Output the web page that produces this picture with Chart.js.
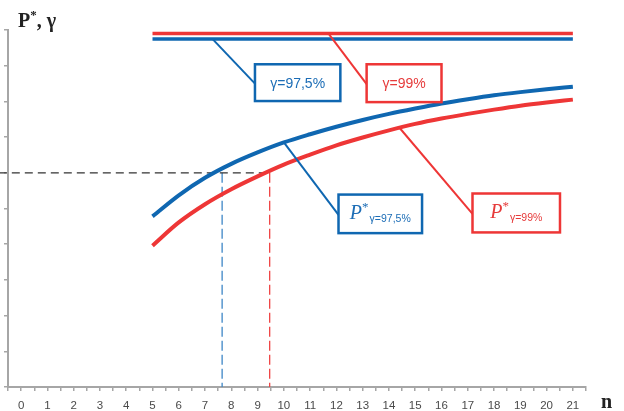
<!DOCTYPE html>
<html>
<head>
<meta charset="utf-8">
<script src="https://cdn.jsdelivr.net/npm/chart.js@4.4.1/dist/chart.umd.min.js"></script>
<style>
  html, body { margin: 0; padding: 0; background: #fff; overflow: hidden; }
  #wrap { position: relative; width: 624px; height: 411px; }
</style>
</head>
<body>
<div id="wrap"><canvas id="chart"></canvas></div>
<script>
// values
const nValues = [5, 6, 7, 8, 9, 10, 11, 12, 13, 14, 15, 16, 17, 18, 19, 20, 21];
const pStar975 = [0.478, 0.537, 0.586, 0.625, 0.657, 0.685, 0.708, 0.729, 0.748, 0.765, 0.780, 0.794, 0.806, 0.817, 0.826, 0.834, 0.841];
const pStar99 = [0.396, 0.461, 0.512, 0.554, 0.590, 0.623, 0.651, 0.677, 0.699, 0.719, 0.737, 0.752, 0.765, 0.777, 0.788, 0.797, 0.805];
const gamma975 = 0.975;
const gamma99 = 0.99;
const pLevel = 0.6;          // horizontal dashed level
const nCross975 = 7.65;      // where the dashed drop lines hit the axis
const nCross99 = 9.46;
const xMin = -0.5, xMax = 21.5;

const BLUE = '#0f67b1';
const RED = '#ee3636';
const AXIS = '#a6a6a6';

const pts = (xs, ys) => xs.map((x, i) => ({ x: x, y: ys[i] }));

// linear interpolation along a series, used to hook leader lines onto the curves
function interp(xs, ys, x) {
  for (let i = 0; i < xs.length - 1; i++) {
    if (x >= xs[i] && x <= xs[i + 1]) {
      const t = (x - xs[i]) / (xs[i + 1] - xs[i]);
      return ys[i] + t * (ys[i + 1] - ys[i]);
    }
  }
  return ys[ys.length - 1];
}

// callout boxes: box = [left n, right n, top value, bottom value], anchor on the line
const callouts = [
  { color: BLUE, text: '#1c6db6', box: [8.9, 12.15, 0.904, 0.801], at: { x: 7.28, y: gamma975 }, label: 'γ=97,5%' },
  { color: RED, text: '#e63b3b', box: [13.15, 16.0, 0.904, 0.798], at: { x: 11.7, y: gamma99 }, label: 'γ=99%' },
  { color: BLUE, text: '#1c6db6', box: [12.08, 15.26, 0.539, 0.431], at: { x: 10, y: interp(nValues, pStar975, 10) }, sub: 'γ=97,5%' },
  { color: RED, text: '#e63b3b', box: [17.18, 20.51, 0.542, 0.433], at: { x: 14.4, y: interp(nValues, pStar99, 14.4) }, sub: 'γ=99%' }
];

const calloutPlugin = {
  id: 'callouts',
  afterDatasetsDraw(chart) {
    const { ctx, scales: { x, y } } = chart;
    ctx.save();
    callouts.forEach(c => {
      const l = x.getPixelForValue(c.box[0]), r = x.getPixelForValue(c.box[1]);
      const t = y.getPixelForValue(c.box[2]), b = y.getPixelForValue(c.box[3]);
      const midY = (t + b) / 2;
      // leader
      ctx.strokeStyle = c.color;
      ctx.lineWidth = 2;
      ctx.beginPath();
      ctx.moveTo(x.getPixelForValue(c.at.x), y.getPixelForValue(c.at.y));
      ctx.lineTo(l, midY + 1);
      ctx.stroke();
      // box
      ctx.fillStyle = '#fff';
      ctx.fillRect(l, t, r - l, b - t);
      ctx.lineWidth = 2.5;
      ctx.strokeRect(l, t, r - l, b - t);
      ctx.fillStyle = c.text;
      ctx.textBaseline = 'alphabetic';
      const cx = (l + r) / 2;
      if (c.label) {
        ctx.font = '14px "Liberation Sans"';
        ctx.textAlign = 'center';
        ctx.fillText(c.label, cx, midY + 5);
      } else {
        // P* with subscript
        ctx.textAlign = 'left';
        const fP = 'italic 20px "Liberation Serif"', fStar = '13px "Liberation Serif"', fSub = '10.5px "Liberation Sans"';
        ctx.font = fP; const wP = ctx.measureText('P').width;
        ctx.font = fStar; const wS = ctx.measureText('*').width;
        ctx.font = fSub; const wSub = ctx.measureText(c.sub).width;
        let px = cx - (wP + wS + 1 + wSub) / 2;
        const base = midY + 5;
        ctx.font = fP; ctx.fillText('P', px, base); px += wP;
        ctx.font = fStar; ctx.fillText('*', px, base - 8); px += wS + 1;
        ctx.font = fSub; ctx.fillText(c.sub, px, base + 3);
      }
    });
    ctx.restore();
  },
  afterDraw(chart) {
    const { ctx } = chart;
    ctx.save();
    ctx.fillStyle = '#222';
    ctx.textBaseline = 'alphabetic';
    ctx.textAlign = 'left';
    // axis titles
    ctx.font = 'bold 20px "Liberation Serif"';
    ctx.fillText('P', 18, 27);
    let w = ctx.measureText('P').width;
    ctx.font = 'bold 13px "Liberation Serif"';
    ctx.fillText('*', 18 + w, 19);
    w += ctx.measureText('*').width;
    ctx.font = 'bold 20px "Liberation Serif"';
    ctx.fillText(', γ', 18 + w, 27);
    ctx.fillText('n', 601, 408);
    ctx.restore();
  }
};

new Chart(document.getElementById('chart'), {
  type: 'line',
  data: {
    datasets: [
      { data: pts(nValues, pStar975), borderColor: BLUE, borderWidth: 4, cubicInterpolationMode: 'monotone', pointRadius: 0 },
      { data: pts(nValues, pStar99), borderColor: RED, borderWidth: 4, cubicInterpolationMode: 'monotone', pointRadius: 0 },
      { data: pts([nValues[0], nValues[nValues.length - 1]], [gamma99, gamma99]), borderColor: RED, borderWidth: 3.5, pointRadius: 0 },
      { data: pts([nValues[0], nValues[nValues.length - 1]], [gamma975, gamma975]), borderColor: BLUE, borderWidth: 3.5, pointRadius: 0 },
      { data: pts([-0.85, nCross99], [pLevel, pLevel]), borderColor: '#333', borderWidth: 1.3, borderDash: [8, 5], pointRadius: 0, clip: false },
      { data: pts([nCross975, nCross975], [pLevel, 0]), borderColor: '#3d86c6', borderWidth: 1.3, borderDash: [10, 4], pointRadius: 0 },
      { data: pts([nCross99, nCross99], [pLevel, 0]), borderColor: '#ef4444', borderWidth: 1.3, borderDash: [10, 4], pointRadius: 0 }
    ]
  },
  options: {
    responsive: true,
    maintainAspectRatio: false,
    animation: false,
    layout: { padding: { left: 2, top: 30, right: 38, bottom: 0 } },
    plugins: { legend: { display: false }, tooltip: { enabled: false } },
    scales: {
      x: {
        type: 'linear',
        min: xMin,
        max: xMax,
        afterFit: scale => { scale.height = 24; },   // labels sit right at the bottom edge as in the original
        grid: { drawOnChartArea: false, drawTicks: true, tickLength: 4, color: AXIS, lineWidth: 1.5 },
        border: { display: true, color: AXIS, width: 2 },
        ticks: {
          stepSize: 0.5,
          autoSkip: false,
          maxRotation: 0,
          padding: 8,
          color: '#4a4a4a',
          font: { family: '"Liberation Sans"', size: 11.5 },
          callback: v => Number.isInteger(v) ? String(v) : ''
        }
      },
      y: {
        min: 0,
        max: 1,
        afterFit: scale => { scale.width = 4; },
        grid: { drawOnChartArea: false, drawTicks: true, tickLength: 4, color: AXIS, lineWidth: 1.5 },
        border: { display: true, color: AXIS, width: 2 },
        ticks: { display: false, stepSize: 0.1 }
      }
    }
  },
  plugins: [calloutPlugin]
});
</script>
</body>
</html>
